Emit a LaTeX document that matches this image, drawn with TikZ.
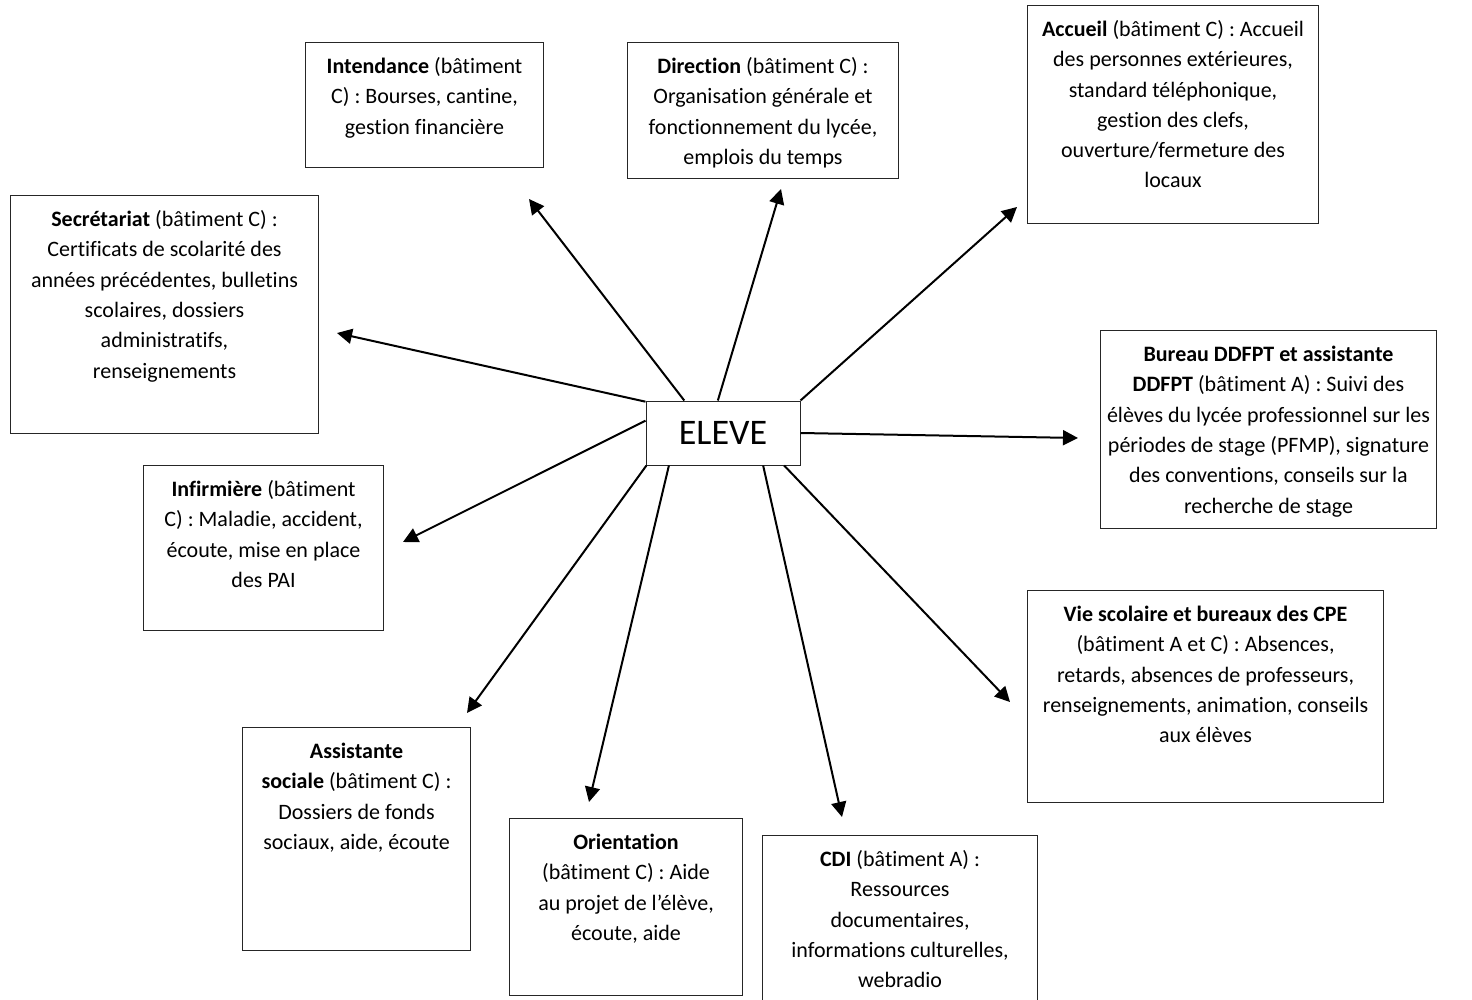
\documentclass[tikz,border=0pt]{standalone}
\usepackage{fontspec}
\setmainfont{Carlito}[Ligatures=CommonOff]
\usetikzlibrary{arrows.meta}

% text of a box: width, height, lines
\newcommand{\contenu}[3]{\parbox[c][#2][t]{#1}{\centering\rule{0pt}{15.5pt}#3}}

\begin{document}
\begin{tikzpicture}[x=0.5pt,y=-0.5pt,
	boite/.style={draw=black!85, line width=0.5pt, inner sep=0pt, anchor=north west, font={\fontsize{11}{15.15}\selectfont}},
	fleche/.style={line width=1pt, -{Triangle[length=7.5pt,width=7.5pt]}}]
			\useasboundingbox (0,0) rectangle (1472,1000);
			%draw the central node
			\node[draw=black!85, line width=0.5pt, inner sep=0pt, minimum width=77pt, minimum height=32pt, font={\fontsize{18}{20}\selectfont}] (eleve) at (723,433) {ELEVE};
			%draw boxes
			\node[boite] (intendance) at (305,42) {\contenu{119pt}{62.5pt}{\textbf{Intendance} (bâtiment\\ C) : Bourses, cantine,\\ gestion financière}};
			\node[boite] (direction) at (627,42) {\contenu{135.5pt}{68pt}{\textbf{Direction} (bâtiment C) :\\ Organisation générale et\\ fonctionnement du lycée,\\ emplois du temps}};
			\node[boite] (accueil) at (1027,5) {\contenu{145.5pt}{109pt}{\textbf{Accueil} (bâtiment C) : Accueil\\ des personnes extérieures,\\ standard téléphonique,\\ gestion des clefs,\\ ouverture/fermeture des\\ locaux}};
			\node[boite] (secretariat) at (10,195) {\contenu{154pt}{119pt}{\textbf{Secrétariat} (bâtiment C) :\\ Certificats de scolarité des\\ années précédentes, bulletins\\ scolaires, dossiers\\ administratifs,\\ renseignements}};
			\node[boite] (ddfpt) at (1100,330) {\contenu{168pt}{99pt}{\textbf{Bureau DDFPT et assistante}\\ \textbf{DDFPT} (bâtiment A) : Suivi des\\ élèves du lycée professionnel sur les\\ périodes de stage (PFMP), signature\\ des conventions, conseils sur la\\ recherche de stage}};
			\node[boite] (infirmiere) at (143,465) {\contenu{120pt}{82.5pt}{\textbf{Infirmière} (bâtiment\\ C) : Maladie, accident,\\ écoute, mise en place\\ des PAI}};
			\node[boite] (viescolaire) at (1027,590) {\contenu{178pt}{106pt}{\textbf{Vie scolaire et bureaux des CPE}\\ (bâtiment A et C) : Absences,\\ retards, absences de professeurs,\\ renseignements, animation, conseils\\ aux élèves}};
			\node[boite] (assistante) at (242,727) {\contenu{114pt}{111.5pt}{\textbf{Assistante}\\ \textbf{sociale} (bâtiment C) :\\ Dossiers de fonds\\ sociaux, aide, écoute}};
			\node[boite] (orientation) at (509,818) {\contenu{116.5pt}{88.5pt}{\textbf{Orientation}\\ (bâtiment C) : Aide\\ au projet de l’élève,\\ écoute, aide}};
			\node[boite] (cdi) at (762,835) {\contenu{137.5pt}{90pt}{\textbf{CDI} (bâtiment A) :\\ Ressources\\ documentaires,\\ informations culturelles,\\ webradio}};
			%arrow tips
			\coordinate (p-intendance) at (529,199);
			\coordinate (p-direction) at (781,189);
			\coordinate (p-accueil) at (1017,207);
			\coordinate (p-secretariat) at (337,333);
			\coordinate (p-ddfpt) at (1078,438);
			\coordinate (p-infirmiere) at (403,542);
			\coordinate (p-viescolaire) at (1010,702);
			\coordinate (p-assistante) at (467,713);
			\coordinate (p-orientation) at (589,802);
			\coordinate (p-cdi) at (842,817);
			%draw arrows
			\foreach \a/\b in {140/intendance, 99/direction, north east/accueil, 158/secretariat, east/ddfpt, 171/infirmiere, 332/viescolaire, 203/assistante, 211/orientation, 321/cdi}{
				\draw[fleche] (eleve.\a) -- (p-\b);
			}
			\end{tikzpicture}
\end{document}
